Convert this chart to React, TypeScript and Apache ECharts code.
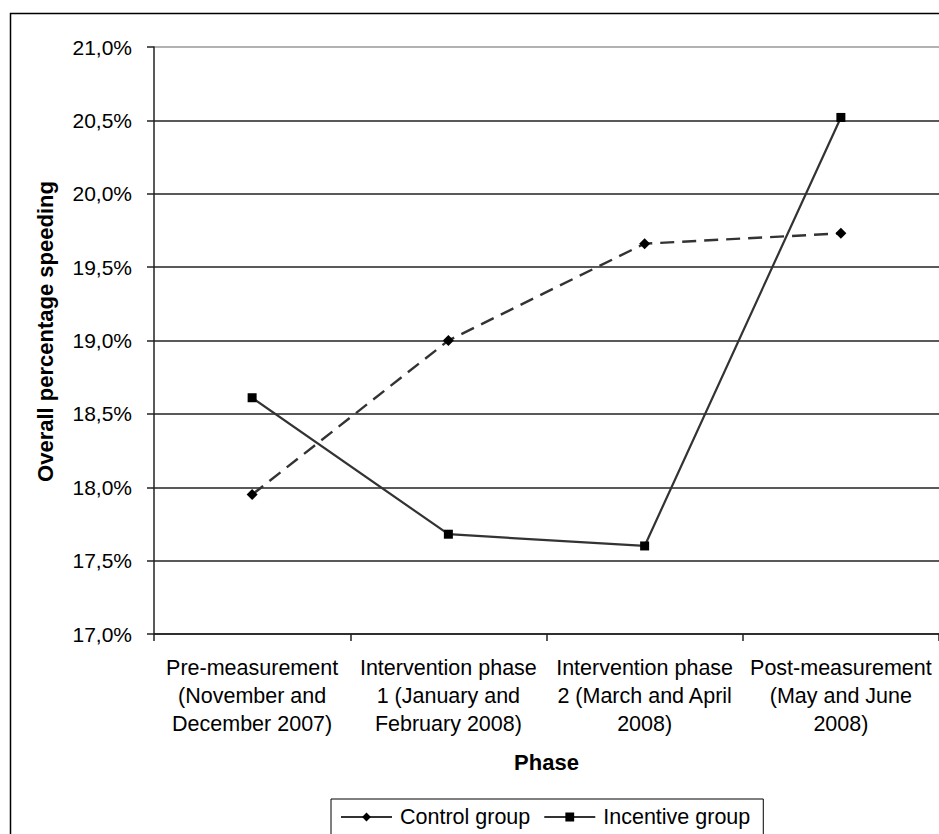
import React, { useEffect, useRef } from "react";
import * as echarts from "echarts";

const categories = [
  "Pre-measurement\n(November and\nDecember 2007)",
  "Intervention phase\n1 (January and\nFebruary 2008)",
  "Intervention phase\n2 (March and April\n2008)",
  "Post-measurement\n(May and June\n2008)",
];
const controlGroup = [17.95, 19.0, 19.66, 19.73];
const incentiveGroup = [18.61, 17.68, 17.6, 20.52];
const yMin = 17;
const yMax = 21;
const yStep = 0.5;

const FONT = "'Liberation Sans', Arial, sans-serif";

export default function App() {
  const ref = useRef<HTMLDivElement>(null);
  useEffect(() => {
    if (!ref.current) return;
    const chart = echarts.init(ref.current, undefined, { renderer: "svg" });
    const gridColors = ["#222", "#222", "#222", "#222", "#222", "#222", "#222", "#222", "#999"];
    chart.setOption({
      animation: false,
      backgroundColor: "#fff",
      textStyle: { fontFamily: FONT },
      graphic: [
        {
          type: "rect",
          shape: { x: 10.5, y: 13.5, width: 1000, height: 1000 },
          style: { fill: "none", stroke: "#000", lineWidth: 1.5 },
          z: 0,
        },
      ],
      grid: { left: 154, top: 47, right: -3, bottom: 200 },
      legend: {
        left: 331,
        top: 799,
        padding: [7, 13, 40, 9],
        borderColor: "#000",
        borderWidth: 1,
        itemWidth: 51,
        itemHeight: 11,
        itemGap: 13,
        textStyle: { fontSize: 21.5, color: "#000", fontFamily: FONT, padding: [0, 0, 0, 3] },
        lineStyle: { type: "solid" },
        data: ["Control group", "Incentive group"],
      },
      xAxis: {
        type: "category",
        data: categories,
        name: "Phase",
        nameLocation: "middle",
        nameGap: 117,
        nameTextStyle: { fontSize: 22, fontWeight: "bold", color: "#000", fontFamily: FONT },
        axisLine: { lineStyle: { color: "#222", width: 1.5 } },
        axisTick: { show: true, length: 7, lineStyle: { color: "#222", width: 1.5 } },
        axisLabel: {
          fontSize: 21.5,
          color: "#000",
          lineHeight: 28,
          margin: 20,
          interval: 0,
          fontFamily: FONT,
        },
      },
      yAxis: {
        type: "value",
        min: yMin,
        max: yMax,
        interval: yStep,
        name: "Overall percentage speeding",
        nameLocation: "middle",
        nameGap: 98,
        nameTextStyle: {
          fontSize: 22,
          fontWeight: "bold",
          color: "#000",
          fontFamily: FONT,
          padding: [0, 0, 0, 18],
        },
        axisLine: { show: true, lineStyle: { color: "#222", width: 1.5 } },
        axisTick: { show: true, length: 7, lineStyle: { color: "#222", width: 1.5 } },
        splitLine: { show: true, lineStyle: { color: gridColors, width: 1.5 } },
        axisLabel: {
          fontSize: 21,
          color: "#000",
          margin: 22,
          fontFamily: FONT,
          formatter: (v: number) => v.toFixed(1).replace(".", ",") + "%",
        },
      },
      series: [
        {
          name: "Control group",
          type: "line",
          data: controlGroup,
          symbol: "diamond",
          symbolSize: 11,
          itemStyle: { color: "#000" },
          lineStyle: { color: "#333", width: 2.4, type: [14, 8] },
        },
        {
          name: "Incentive group",
          type: "line",
          data: incentiveGroup,
          symbol: "rect",
          symbolSize: 9,
          itemStyle: { color: "#000" },
          lineStyle: { color: "#333", width: 2.2, type: "solid" },
        },
      ],
    });
    return () => chart.dispose();
  }, []);
  return (
    <div
      ref={ref}
      style={{ position: "fixed", left: 0, top: 0, width: 939, height: 834, overflow: "hidden" }}
    />
  );
}
